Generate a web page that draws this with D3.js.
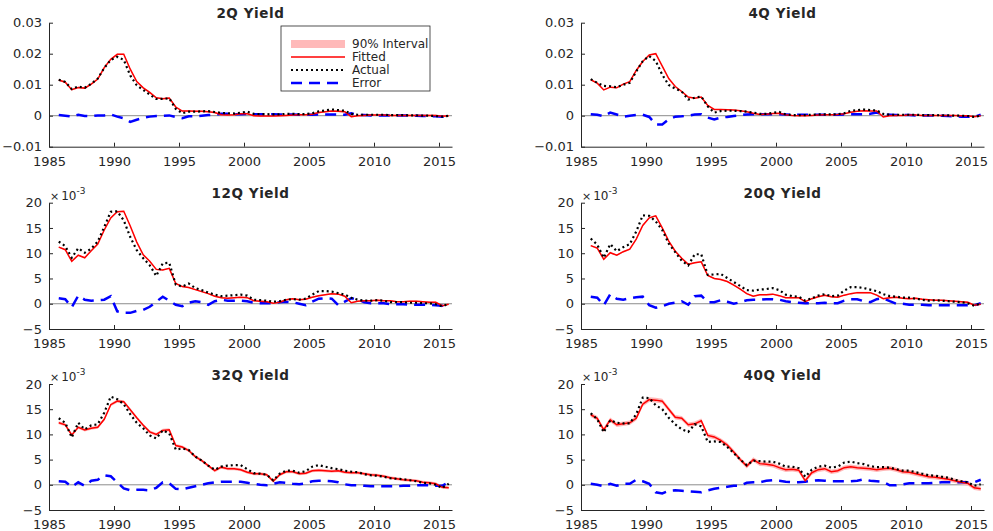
<!DOCTYPE html>
<html lang="en">

<head>
    <meta charset="UTF-8" />
    <title>Yield fit</title>
    <style>
        body { margin: 0; background: #fff; }
        text { font-family: "DejaVu Sans", sans-serif; fill: #262626; }
    </style>
</head>

<body>
    <div id="container"></div>
</body>
<script src="https://cdnjs.cloudflare.com/ajax/libs/d3/7.8.5/d3.min.js"></script>
<script>
    // time axis (semiannual samples)
    const quarters = [1985.75, 1986.25, 1986.75, 1987.25, 1987.75, 1988.25, 1988.75, 1989.25, 1989.75, 1990.25,
        1990.75, 1991.25, 1991.75, 1992.25, 1992.75, 1993.25, 1993.75, 1994.25, 1994.75, 1995.25,
        1995.75, 1996.25, 1996.75, 1997.25, 1997.75, 1998.25, 1998.75, 1999.25, 1999.75, 2000.25,
        2000.75, 2001.25, 2001.75, 2002.25, 2002.75, 2003.25, 2003.75, 2004.25, 2004.75, 2005.25,
        2005.75, 2006.25, 2006.75, 2007.25, 2007.75, 2008.25, 2008.75, 2009.25, 2009.75, 2010.25,
        2010.75, 2011.25, 2011.75, 2012.25, 2012.75, 2013.25, 2013.75, 2014.25, 2014.75, 2015.25, 2015.75];

    const titles = ["2Q Yield", "4Q Yield", "12Q Yield", "20Q Yield", "32Q Yield", "40Q Yield"];
    const xTicks = [1985, 1990, 1995, 2000, 2005, 2010, 2015];
    const yTicksTop = [-10, 0, 10, 20, 30];   // x 1e-3, shown as 0.01 etc
    const yTicksLow = [-5, 0, 5, 10, 15, 20];
    const legendLabels = ["90% Interval", "Fitted", "Actual", "Error"];

    // all values in units of 1e-3
    const fitted2Q = [11.5, 10.8, 8.4, 9.1, 8.9, 10.2, 11.8, 15.5, 18.2, 19.8, 19.8, 15.0, 11.0, 9.0, 7.5, 5.8, 5.5, 5.7, 2.8, 1.5,
        1.5, 1.4, 1.4, 1.3, 1.0, 0.3, 0.2, 0.3, 0.6, 0.6, 0.0, -0.1, -0.1, -0.1, 0.0, 0.1, 0.2, 0.3, 0.3, 0.5,
        1.0, 1.3, 1.5, 1.4, 1.3, -0.3, 0.0, 0.1, 0.2, 0.2, 0.2, 0.1, 0.1, 0.1, 0.1, 0.1, 0.1, 0.1, 0.1, -0.2, 0.0];
    const actual2Q = [11.6, 10.9, 8.6, 9.4, 9.0, 10.3, 12.0, 15.4, 18.0, 19.0, 18.0, 13.0, 9.8, 8.3, 6.8, 5.4, 5.4, 5.6, 2.2, 0.8,
        1.3, 1.3, 1.4, 1.5, 1.2, 0.9, 0.8, 0.7, 1.0, 1.3, 0.6, 0.5, 0.5, 0.4, 0.4, 0.6, 0.6, 0.5, 0.5, 0.8,
        1.4, 1.7, 2.0, 1.8, 1.6, 0.6, 0.3, 0.3, 0.3, 0.3, 0.3, 0.2, 0.2, 0.2, 0.1, 0.1, 0.0, 0.0, -0.1, -0.3, 0.0];
    const error2Q = [0.2, 0.0, -0.3, 0.3, -0.1, -0.1, 0.1, 0.1, 0.4, -0.3, -0.8, -2.0, -1.3, -0.7, -0.3, -0.1, 0.0, 0.1, -0.4, -0.8,
        -0.2, -0.2, 0.0, 0.2, 0.3, 0.6, 0.6, 0.5, 0.5, 0.6, 0.5, 0.5, 0.5, 0.5, 0.4, 0.4, 0.4, 0.3, 0.3, 0.3,
        0.4, 0.4, 0.4, 0.4, 0.3, 0.8, 0.3, 0.2, 0.1, 0.1, 0.1, 0.1, 0.1, 0.1, 0.0, 0.0, -0.1, -0.1, -0.2, -0.3, 0.0];

    const fitted4Q = [11.6, 10.5, 8.3, 9.2, 9.0, 10.2, 11.0, 14.6, 17.5, 19.6, 20.0, 16.0, 12.0, 9.4, 7.8, 6.0, 5.6, 6.0, 3.3, 2.0,
        2.0, 1.9, 1.8, 1.6, 1.3, 0.8, 0.4, 0.5, 0.7, 0.8, 0.3, 0.1, 0.0, 0.0, 0.1, 0.2, 0.3, 0.3, 0.4, 0.6,
        1.1, 1.4, 1.6, 1.5, 1.5, -0.4, 0.0, 0.1, 0.1, 0.2, 0.2, 0.1, 0.1, 0.1, 0.1, 0.1, 0.1, 0.0, 0.0, -0.3, 0.0];
    const actual4Q = [11.8, 10.6, 9.6, 9.5, 9.2, 10.0, 10.6, 14.3, 17.6, 19.2, 17.6, 13.2, 9.9, 8.7, 7.8, 5.2, 5.8, 6.2, 3.0, 1.0,
        1.5, 1.6, 1.6, 1.5, 1.3, 1.0, 0.6, 0.6, 0.9, 1.2, 0.4, 0.2, 0.2, 0.2, 0.3, 0.4, 0.4, 0.4, 0.5, 0.8,
        1.6, 1.8, 2.0, 1.8, 1.7, 0.6, 0.3, 0.3, 0.3, 0.3, 0.3, 0.2, 0.2, 0.2, 0.1, 0.1, 0.0, 0.0, -0.1, -0.4, 0.0];
    const error4Q = [0.5, 0.3, -0.2, 1.0, 0.4, -0.3, 0.0, 0.2, 0.3, -0.4, -2.8, -2.8, -1.2, -0.3, -0.2, 0.0, 0.4, 0.5, -0.6, -1.2,
        -0.6, -0.4, -0.1, 0.2, 0.4, 0.5, 0.5, 0.5, 0.5, 0.5, 0.4, 0.3, 0.3, 0.3, 0.3, 0.3, 0.3, 0.3, 0.3, 0.4,
        0.5, 0.5, 0.5, 0.6, 1.0, 0.4, 0.3, 0.2, 0.2, 0.2, 0.1, 0.1, 0.1, 0.0, 0.0, -0.1, -0.2, -0.3, -0.3, -0.4, 0.3];

    const fitted12Q = [11.2, 10.7, 8.4, 9.6, 9.1, 10.5, 11.8, 14.6, 17.0, 18.2, 18.3, 15.4, 12.2, 9.7, 8.4, 6.8, 6.7, 7.0, 4.0, 3.4,
        3.2, 2.8, 2.4, 2.0, 1.5, 1.2, 1.1, 1.2, 1.3, 1.2, 0.6, 0.5, 0.4, 0.1, 0.3, 0.8, 1.0, 0.8, 0.9, 1.3,
        1.6, 1.8, 2.0, 1.9, 1.5, 0.2, 0.5, 0.6, 0.6, 0.7, 0.6, 0.6, 0.4, 0.4, 0.5, 0.5, 0.4, 0.3, 0.3, -0.4, -0.1];
    const actual12Q = [12.3, 11.4, 9.1, 11.0, 10.1, 10.9, 12.3, 15.2, 18.2, 18.3, 16.5, 13.2, 10.6, 9.0, 7.6, 5.5, 8.0, 8.1, 3.8, 3.4,
        4.0, 3.1, 2.7, 2.2, 1.8, 1.5, 1.6, 1.7, 1.8, 1.6, 0.8, 0.7, 0.6, 0.4, 0.5, 0.8, 0.9, 0.8, 1.0, 1.8,
        2.5, 2.5, 2.4, 2.1, 1.8, 1.2, 0.8, 0.6, 0.6, 0.7, 0.6, 0.3, 0.3, 0.3, 0.2, 0.2, 0.1, 0.1, -0.1, -0.5, 0.0];
    const error12Q = [1.1, 0.9, -0.7, 1.6, 0.8, 0.6, 0.7, 0.8, 1.5, -1.5, -1.8, -1.8, -1.4, -1.2, -0.6, 0.4, 1.4, 0.6, -0.2, -0.5,
        0.2, 0.5, 0.3, -0.2, 0.5, 0.8, 0.6, 0.6, 0.6, 0.5, 0.2, 0.1, 0.1, 0.1, 0.3, 0.4, 0.3, 0.0, -0.3, 0.4,
        1.0, 1.1, 1.0, -0.3, 0.4, 1.1, 0.9, 0.3, 0.1, 0.1, 0.1, -0.1, -0.1, -0.1, -0.2, -0.2, -0.2, -0.2, -0.3, -0.4, 0.0];

    const fitted20Q = [11.5, 11.0, 8.8, 10.1, 9.6, 10.3, 10.8, 12.8, 15.5, 17.0, 17.4, 15.0, 12.4, 10.4, 9.0, 7.8, 8.1, 8.3, 5.6, 5.0,
        4.8, 4.4, 3.7, 2.9, 2.0, 1.5, 1.8, 1.8, 1.9, 1.6, 1.2, 1.2, 1.2, 0.4, 1.0, 1.4, 1.7, 1.4, 1.3, 1.7,
        2.0, 2.2, 2.2, 2.2, 1.7, 1.0, 1.2, 1.3, 1.1, 1.0, 1.1, 0.9, 0.8, 0.7, 0.7, 0.6, 0.5, 0.4, 0.3, -0.3, -0.1];
    const actual20Q = [12.9, 11.7, 9.1, 11.8, 10.4, 11.2, 11.8, 14.3, 17.5, 17.4, 16.3, 14.6, 11.9, 10.2, 8.5, 7.6, 9.8, 9.8, 5.7, 5.8,
        5.9, 5.1, 4.3, 3.5, 2.7, 2.6, 2.8, 2.9, 3.1, 2.7, 1.8, 1.5, 1.4, 0.6, 1.1, 1.6, 1.9, 1.5, 1.6, 2.6,
        3.3, 3.3, 3.1, 2.8, 2.5, 1.9, 1.5, 1.4, 1.2, 1.2, 1.0, 0.8, 0.6, 0.7, 0.6, 0.5, 0.4, 0.3, 0.1, -0.4, 0.1];
    const error20Q = [1.4, 1.2, -0.3, 1.9, 1.0, 0.8, 1.1, 1.3, 1.4, -0.3, -0.8, -0.5, 0.0, 0.2, 0.5, -0.2, 1.5, 1.6, 0.3, 0.3,
        0.7, 0.4, 0.0, 0.3, 0.7, 0.8, 0.8, 0.9, 0.9, 0.8, 0.5, 0.3, 0.2, 0.1, 0.1, 0.1, 0.2, 0.1, 0.1, 0.6,
        0.9, 0.9, 0.5, 0.3, 0.9, 1.1, 0.5, 0.0, 0.0, -0.2, -0.2, -0.2, -0.3, -0.3, -0.3, -0.3, -0.3, -0.3, -0.3, -0.3, 0.1];

    const fitted32Q = [12.3, 11.9, 9.9, 11.4, 10.9, 11.2, 11.4, 13.0, 15.9, 16.6, 16.5, 14.9, 13.3, 11.8, 10.5, 10.0, 10.8, 10.9, 7.8, 7.5,
        6.8, 5.6, 4.8, 3.8, 2.8, 3.5, 3.2, 3.2, 3.0, 2.5, 2.2, 2.2, 2.0, 0.7, 2.0, 2.6, 2.6, 2.2, 2.3, 2.8,
        2.9, 2.8, 2.7, 2.8, 2.5, 2.4, 2.4, 2.2, 2.0, 1.9, 1.7, 1.4, 1.2, 1.0, 0.9, 0.8, 0.5, 0.4, 0.2, -0.5, -0.6];
    const actual32Q = [13.2, 12.3, 9.4, 12.3, 11.0, 11.8, 12.0, 14.3, 17.5, 17.0, 16.0, 14.0, 12.3, 11.2, 9.8, 9.2, 10.8, 10.2, 7.0, 7.2,
        6.9, 5.6, 4.8, 3.8, 3.0, 3.6, 3.8, 3.9, 3.9, 3.1, 2.3, 2.2, 2.0, 0.9, 2.2, 2.8, 2.8, 2.4, 2.7, 3.6,
        3.9, 3.6, 3.3, 3.1, 2.8, 2.6, 2.5, 2.1, 1.9, 1.8, 1.6, 1.3, 1.2, 1.1, 0.9, 0.7, 0.4, 0.3, 0.0, -0.6, 0.2];
    const error32Q = [0.7, 0.6, -0.4, 0.5, -0.2, 0.8, 1.0, 1.9, 1.7, 0.5, -0.7, -1.1, -1.0, -1.0, -1.1, -0.6, 0.5, 0.3, -0.8, -0.9,
        -0.6, -0.3, 0.0, 0.3, 0.5, 0.6, 0.6, 0.6, 0.6, 0.4, 0.2, 0.0, -0.1, 0.2, 0.5, 0.4, 0.2, 0.1, 0.3, 0.7,
        0.8, 0.8, 0.7, 0.5, 0.1, -0.1, -0.1, -0.2, -0.3, -0.3, -0.3, -0.3, -0.3, -0.2, -0.2, -0.1, -0.1, -0.1, -0.2, -0.2, 0.5];

    const fitted40Q = [13.9, 13.2, 10.9, 12.9, 11.9, 12.1, 12.3, 13.2, 16.0, 16.9, 16.8, 16.6, 15.0, 13.4, 13.2, 11.9, 12.1, 12.7, 9.8, 9.5,
        8.8, 7.9, 6.5, 5.0, 3.7, 5.0, 4.2, 4.1, 3.9, 3.4, 3.0, 3.1, 2.9, 0.8, 2.4, 3.0, 3.2, 2.6, 2.8, 3.4,
        3.6, 3.4, 3.3, 3.2, 3.0, 3.2, 3.3, 3.0, 2.6, 2.5, 2.2, 1.9, 1.6, 1.5, 1.3, 1.1, 0.8, 0.5, 0.3, -0.6, -0.8];
    const actual40Q = [14.2, 13.0, 10.4, 12.8, 12.3, 12.2, 12.2, 14.0, 17.3, 17.2, 15.8, 15.0, 13.3, 12.0, 11.0, 10.5, 12.0, 11.6, 8.5, 8.6,
        8.5, 7.5, 6.3, 5.0, 3.9, 4.8, 4.7, 4.6, 4.6, 4.2, 3.6, 3.6, 3.3, 1.6, 3.0, 3.6, 3.8, 3.4, 3.6, 4.4,
        4.6, 4.3, 4.1, 3.7, 3.5, 3.5, 3.4, 3.1, 2.8, 2.8, 2.5, 2.2, 1.9, 1.8, 1.6, 1.4, 1.0, 0.7, 0.5, -0.2, 0.1];
    const error40Q = [0.2, 0.0, -0.3, 0.2, -0.2, 0.2, 0.2, 1.0, 0.7, 0.2, -1.5, -1.7, -1.2, -1.1, -1.2, -1.3, -1.4, -1.5, -1.1, -0.8,
        -0.6, -0.4, -0.2, -0.2, 0.4, 0.5, 0.5, 0.8, 0.9, 0.8, 0.6, 0.5, 0.5, 0.6, 0.8, 0.9, 0.8, 0.7, 0.7, 0.7,
        0.7, 0.8, 1.1, 0.8, 0.7, 0.6, -0.1, -0.1, 0.1, 0.3, 0.3, 0.3, 0.3, 0.4, 0.5, 0.5, 0.5, 0.5, 0.5, 0.5, 1.0];

    // half width of the 90% band, per panel
    const intervalHalfWidth = [0.25, 0.12, 0.12, 0.15, 0.3, 0.45];

    const fittedAll = [fitted2Q, fitted4Q, fitted12Q, fitted20Q, fitted32Q, fitted40Q];
    const actualAll = [actual2Q, actual4Q, actual12Q, actual20Q, actual32Q, actual40Q];
    const errorAll = [error2Q, error4Q, error12Q, error20Q, error32Q, error40Q];

    // layout
    const W = 993, H = 531;
    const cols = [[49, 452], [581, 984]];
    const rows = [[22.7, 146.7], [202.7, 329], [384, 510]];
    const axisColor = "#262626";

    const svg = d3.select("#container").append("svg").attr("width", W).attr("height", H);

    titles.forEach((title, p) => {
        const c = cols[p % 2], r = rows[Math.floor(p / 2)];
        const top = p < 2;
        const x = d3.scaleLinear().domain([1985, 2016]).range(c);
        const y = d3.scaleLinear().domain(top ? [-10, 30] : [-5, 20]).range([r[1], r[0]]);
        const g = svg.append("g");

        const rowsData = quarters.map((t, i) => ({
            t: t, f: fittedAll[p][i], a: actualAll[p][i], e: errorAll[p][i]
        }));
        const hw = intervalHalfWidth[p];

        // zero line
        g.append("line")
            .attr("x1", c[0]).attr("x2", c[1])
            .attr("y1", y(0)).attr("y2", y(0))
            .attr("stroke", "#8c8c8c").attr("stroke-width", 1);

        // 90% band
        g.append("path").datum(rowsData)
            .attr("d", d3.area().x(d => x(d.t)).y0(d => y(d.f - hw)).y1(d => y(d.f + hw)))
            .attr("fill", "#ffb9b9");

        // error
        g.append("path").datum(rowsData)
            .attr("d", d3.line().x(d => x(d.t)).y(d => y(d.e)))
            .attr("fill", "none").attr("stroke", "#0000ff").attr("stroke-width", 2.5)
            .attr("stroke-dasharray", "11,7");

        // fitted
        g.append("path").datum(rowsData)
            .attr("d", d3.line().x(d => x(d.t)).y(d => y(d.f)))
            .attr("fill", "none").attr("stroke", "#ff0000").attr("stroke-width", 1.5);

        // actual
        g.append("path").datum(rowsData)
            .attr("d", d3.line().x(d => x(d.t)).y(d => y(d.a)))
            .attr("fill", "none").attr("stroke", "#000").attr("stroke-width", 2.2)
            .attr("stroke-dasharray", "2,3");

        // axes: ticks pointing inward
        const fmtTop = d => d === 0 ? "0" : d3.format(".2f")(d / 1000);
        const xAxis = d3.axisBottom(x).tickValues(xTicks).tickFormat(d3.format("d"))
            .tickSizeInner(-4).tickSizeOuter(0).tickPadding(8);
        const yAxis = d3.axisLeft(y).tickValues(top ? yTicksTop : yTicksLow)
            .tickFormat(top ? fmtTop : d3.format("d"))
            .tickSizeInner(-4).tickSizeOuter(0).tickPadding(7);

        const gx = g.append("g").attr("transform", `translate(0,${r[1]})`).call(xAxis);
        const gy = g.append("g").attr("transform", `translate(${c[0]},0)`).call(yAxis);
        [gx, gy].forEach(a => {
            a.select(".domain").attr("stroke", axisColor);
            a.selectAll(".tick line").attr("stroke", axisColor);
            a.selectAll(".tick text").attr("fill", axisColor)
                .style("font-family", "DejaVu Sans").style("font-size", "13px");
        });
        gx.selectAll(".tick text").attr("dy", "0.85em");

        // exponent label
        if (!top) {
            const ex = g.append("text").attr("x", c[0] + 1).attr("y", r[0] - 3)
                .style("font-size", "12px").attr("fill", "#555");
            ex.append("tspan").text("\u00d7").style("font-size", "11px");
            ex.append("tspan").text("10").attr("dx", 2);
            ex.append("tspan").text("-3").attr("dy", -6).style("font-size", "9px");
        }

        // title
        g.append("text")
            .attr("x", (c[0] + c[1]) / 2).attr("y", r[0] - 4.5)
            .attr("text-anchor", "middle")
            .style("font-weight", "bold").style("font-size", "13.5px")
            .style("letter-spacing", "0.6px")
            .text(title);

        // legend on the first panel
        if (p === 0) {
            const lg = g.append("g").attr("transform", "translate(281,26)");
            lg.append("rect").attr("width", 149).attr("height", 65)
                .attr("fill", "#fff").attr("stroke", axisColor).attr("stroke-width", 0.8);
            const ys = [18, 31, 44, 57];
            lg.append("rect").attr("x", 10).attr("y", ys[0] - 4).attr("width", 54).attr("height", 8).attr("fill", "#ffb9b9");
            lg.append("line").attr("x1", 10).attr("x2", 64).attr("y1", ys[1]).attr("y2", ys[1])
                .attr("stroke", "#ff0000").attr("stroke-width", 1.5);
            lg.append("line").attr("x1", 10).attr("x2", 64).attr("y1", ys[2]).attr("y2", ys[2])
                .attr("stroke", "#000").attr("stroke-width", 2.2).attr("stroke-dasharray", "2,3");
            lg.append("line").attr("x1", 10).attr("x2", 64).attr("y1", ys[3]).attr("y2", ys[3])
                .attr("stroke", "#0000ff").attr("stroke-width", 2.5).attr("stroke-dasharray", "11,7");
            legendLabels.forEach((l, i) => {
                lg.append("text").attr("x", 71).attr("y", ys[i]).attr("dy", "0.35em")
                    .style("font-size", "12px").text(l);
            });
        }
    });
</script>

</html>
